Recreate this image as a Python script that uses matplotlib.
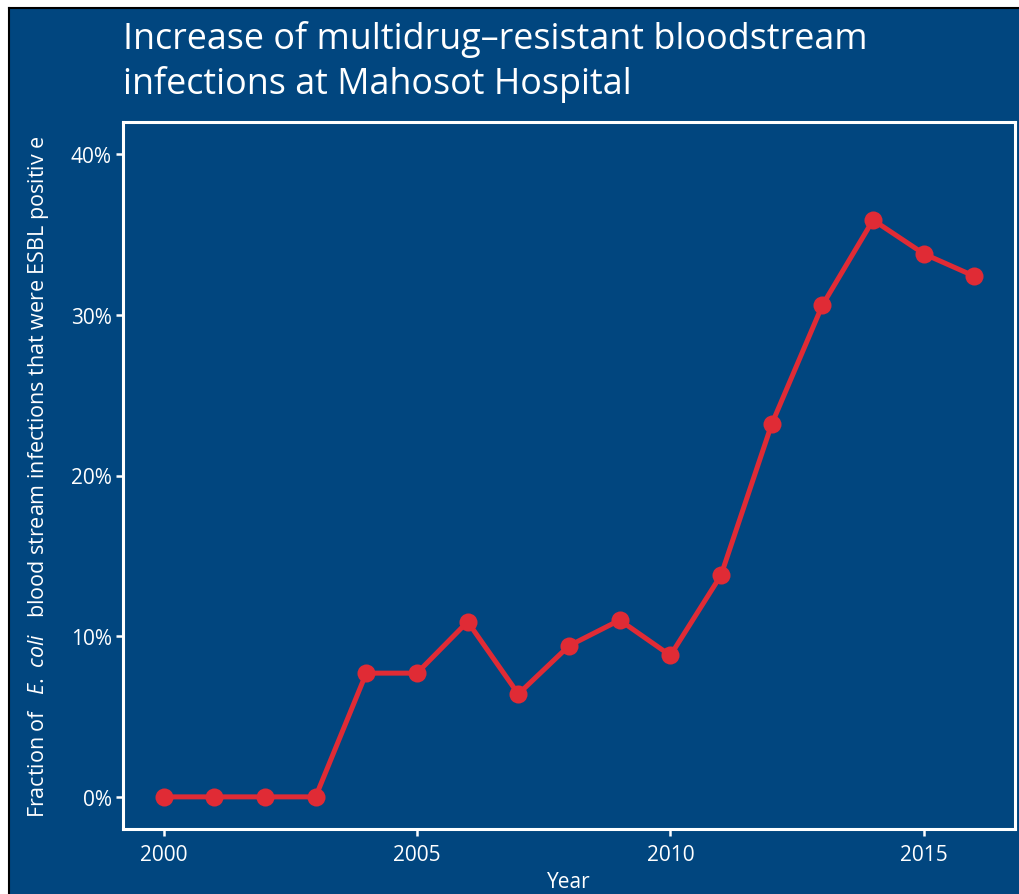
import matplotlib.pyplot as plt
import matplotlib.patches as mpatches
from matplotlib.lines import Line2D
from matplotlib.ticker import FuncFormatter

# Chart colours.
bg_blue = "#01467F"
line_red = "#E02B35"

years = [2000, 2001, 2002, 2003, 2004, 2005, 2006, 2007, 2008,
         2009, 2010, 2011, 2012, 2013, 2014, 2015, 2016]
esbl_pct = [0.0, 0.0, 0.0, 0.0, 7.7, 7.7, 10.9, 6.4, 9.4,
            11.0, 8.8, 13.8, 23.2, 30.6, 35.9, 33.8, 32.4]
y_ticks = [0, 10, 20, 30, 40]
x_ticks = [2000, 2005, 2010, 2015]

plt.rcParams["font.family"] = ["Open Sans", "DejaVu Sans"]
plt.rcParams["mathtext.fontset"] = "custom"
plt.rcParams["mathtext.it"] = "Open Sans:italic"
plt.rcParams["mathtext.rm"] = "Open Sans"

W, H = 1019, 895
fig = plt.figure(figsize=(W / 100, H / 100), dpi=100)
fig.patch.set_facecolor("white")

# Blue plot background, cropped on the right and bottom; black outline top and left only.
fig.patches.append(mpatches.Rectangle(
    (9 / W, 0), 1.0, (H - 9) / H, transform=fig.transFigure,
    facecolor=bg_blue, edgecolor="none", zorder=-2))
fig.lines.append(Line2D([9 / W, 9 / W], [0, (H - 9) / H], transform=fig.transFigure,
                        color="black", linewidth=1.5, zorder=-1))
fig.lines.append(Line2D([9 / W, 1], [(H - 9) / H, (H - 9) / H], transform=fig.transFigure,
                        color="black", linewidth=1.5, zorder=-1))

ax = fig.add_axes([123 / W, (H - 830) / H, (1015 - 123) / W, (830 - 123) / H])
ax.set_facecolor(bg_blue)
ax.plot(years, esbl_pct, color=line_red, linewidth=3.6, marker="o",
        markersize=13, markeredgewidth=0, clip_on=False)

ax.set_xlim(1999.2, 2016.8)
ax.set_ylim(-2, 42)
ax.set_xticks(x_ticks)
ax.set_yticks(y_ticks)
ax.yaxis.set_major_formatter(FuncFormatter(lambda v, p: f"{v:.0f}%"))

for side in ["left", "right", "top", "bottom"]:
    ax.spines[side].set_color("white")
    ax.spines[side].set_linewidth(2.2)
ax.tick_params(colors="white", labelcolor="white", labelsize=15,
               length=5, width=1.8)
ax.tick_params(axis="x", pad=6)
ax.tick_params(axis="y", pad=3)

ax.set_xlabel("Year", color="white", fontsize=15, labelpad=4)
ax.set_ylabel(r"Fraction of   $\it{E.\ coli}$   blood stream infections that were ESBL positiv e",
              color="white", fontsize=15.5, labelpad=14)

fig.text(123 / W, 1 - 21 / H,
         "Increase of multidrug\u2013resistant bloodstream\ninfections at Mahosot Hospital",
         color="white", fontsize=25.8, ha="left", va="top", linespacing=1.3)

plt.savefig("out.png", dpi=100, facecolor=fig.get_facecolor())
